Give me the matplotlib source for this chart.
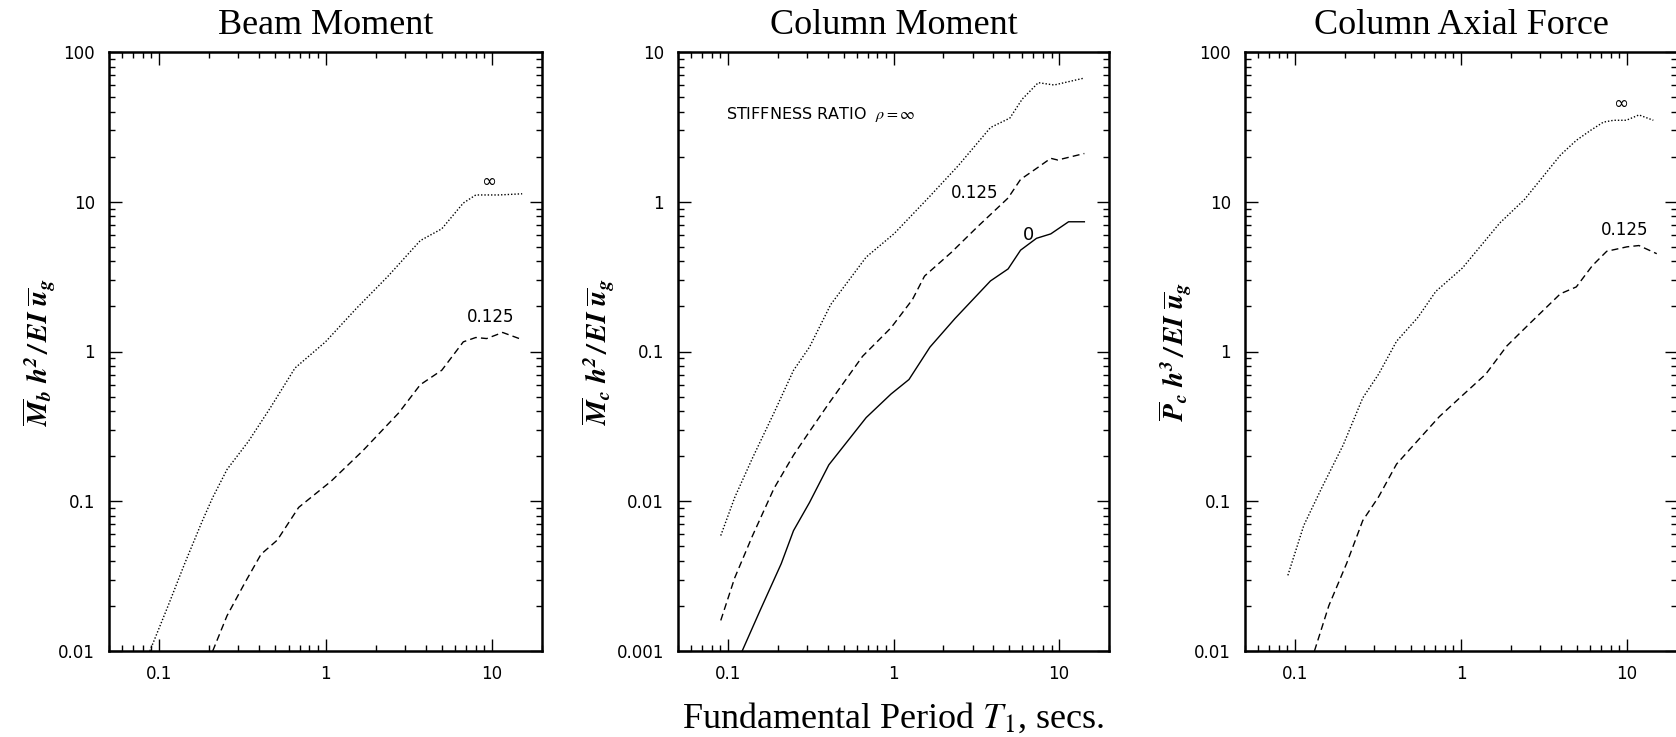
import numpy as np
import matplotlib
matplotlib.use("Agg")
import matplotlib.pyplot as plt
from matplotlib.ticker import LogLocator, FixedLocator, FuncFormatter, NullFormatter

plt.rcParams['font.family'] = ['Liberation Serif', 'DejaVu Serif']
plt.rcParams['mathtext.fontset'] = 'stix'

# ---- data (period T1 in secs) ----
# Beam moment
beam_inf_T = [0.088, 0.113, 0.142, 0.181, 0.210, 0.256, 0.345, 0.465, 0.656, 1.0, 1.52, 2.38, 3.71, 5.0, 6.73, 8.0, 11.0, 15.2]
beam_inf_v = [0.01, 0.0199, 0.038, 0.073, 0.106, 0.163, 0.252, 0.419, 0.776, 1.16, 1.92, 3.19, 5.5, 6.6, 9.8, 11.1, 11.1, 11.3]
beam_125_T = [0.21, 0.256, 0.328, 0.41, 0.513, 0.69, 1.08, 1.68, 2.76, 3.71, 5.0, 6.73, 8.0, 9.3, 11.6, 15.2]
beam_125_v = [0.01, 0.0172, 0.0286, 0.0443, 0.055, 0.091, 0.136, 0.218, 0.39, 0.60, 0.75, 1.16, 1.24, 1.22, 1.34, 1.2]

# Column moment
col_inf_T = [0.0906, 0.110, 0.141, 0.19, 0.249, 0.311, 0.418, 0.684, 1.01, 1.66, 2.47, 3.85, 5.04, 5.98, 7.48, 9.33, 14.2]
col_inf_v = [0.0059, 0.0106, 0.0195, 0.039, 0.0748, 0.107, 0.206, 0.427, 0.613, 1.09, 1.75, 3.13, 3.62, 4.84, 6.24, 6.02, 6.7]
col_125_T = [0.0906, 0.110, 0.141, 0.19, 0.249, 0.311, 0.407, 0.651, 0.966, 1.30, 1.54, 2.23, 3.23, 4.92, 5.85, 7.3, 8.9, 9.8, 14.2]
col_125_v = [0.0016, 0.00308, 0.0059, 0.0122, 0.0203, 0.0292, 0.045, 0.093, 0.144, 0.222, 0.319, 0.458, 0.684, 1.06, 1.41, 1.67, 1.95, 1.9, 2.1]
col_0_T = [0.122, 0.156, 0.21, 0.249, 0.311, 0.407, 0.684, 0.966, 1.24, 1.66, 2.35, 3.85, 4.92, 5.85, 7.3, 8.9, 11.4, 14.2]
col_0_v = [0.001, 0.00185, 0.00383, 0.00636, 0.0098, 0.0175, 0.0362, 0.052, 0.065, 0.107, 0.166, 0.296, 0.356, 0.475, 0.57, 0.61, 0.735, 0.735]

# Column axial force
ax_inf_T = [0.0906, 0.113, 0.145, 0.195, 0.256, 0.319, 0.409, 0.55, 0.705, 1.02, 1.27, 1.71, 2.42, 3.97, 4.95, 6.04, 7.2, 8.3, 9.9, 11.8, 14.4]
ax_inf_v = [0.032, 0.069, 0.123, 0.237, 0.49, 0.706, 1.17, 1.69, 2.52, 3.61, 4.84, 7.2, 10.4, 20.5, 25.7, 30.0, 34.0, 35.0, 35.0, 38.0, 35.0]
ax_125_T = [0.131, 0.16, 0.205, 0.256, 0.319, 0.409, 0.55, 0.74, 1.02, 1.41, 1.89, 2.55, 3.97, 4.95, 6.19, 7.55, 10.0, 11.8, 15.1]
ax_125_v = [0.01, 0.0201, 0.0386, 0.0743, 0.107, 0.177, 0.255, 0.367, 0.509, 0.706, 1.09, 1.51, 2.43, 2.7, 3.75, 4.67, 5.0, 5.1, 4.5]

titles = ['Beam Moment', 'Column Moment', 'Column Axial Force']
ylabels = [r'$\mathbfit{\overline{M}_b\ h^2\,/\,EI\ \overline{u}_g}$',
           r'$\mathbfit{\overline{M}_c\ h^2\,/\,EI\ \overline{u}_g}$',
           r'$\mathbfit{\overline{P}_c\ h^3\,/\,EI\ \overline{u}_g}$']
ylims = [(0.01, 100), (0.001, 10), (0.01, 100)]
xlim = (0.05, 20)

DOT = (0, (1, 1.4))
DASH = (0, (5, 3))
TICKFONT = 'DejaVu Sans'

W, H = 1676, 737
fig = plt.figure(figsize=(W / 100, H / 100), dpi=100)

# axes boxes in pixels: left, right, top, bottom
boxes = [(109, 542, 52, 651), (678, 1109, 52, 651), (1245, 1677, 52, 651)]
axes = []
for (l, r, t, b) in boxes:
    axes.append(fig.add_axes([l / W, 1 - b / H, (r - l) / W, (b - t) / H]))


def style_axis(ax, ylim, title, ylabel):
    ax.set_xscale('log')
    ax.set_yscale('log')
    ax.set_xlim(*xlim)
    ax.set_ylim(*ylim)
    ax.xaxis.set_major_locator(FixedLocator([0.1, 1, 10]))
    ax.xaxis.set_minor_locator(LogLocator(base=10, subs=np.arange(2, 10)))
    ax.xaxis.set_minor_formatter(NullFormatter())
    majors = [10.0 ** k for k in range(int(np.log10(ylim[0])), int(np.log10(ylim[1])) + 1)]
    ax.yaxis.set_major_locator(FixedLocator(majors))
    ax.yaxis.set_minor_locator(LogLocator(base=10, subs=np.arange(2, 10)))
    ax.yaxis.set_minor_formatter(NullFormatter())
    fmt = FuncFormatter(lambda v, p: f'{v:g}')
    ax.xaxis.set_major_formatter(fmt)
    ax.yaxis.set_major_formatter(fmt)
    ax.tick_params(which='both', direction='in', top=True, right=True, width=1.0)
    ax.tick_params(which='major', length=9, labelsize=12, pad=10)
    ax.tick_params(which='minor', length=4)
    for lab in ax.get_xticklabels() + ax.get_yticklabels():
        lab.set_family(TICKFONT)
    for s in ax.spines.values():
        s.set_linewidth(1.8)
    ax.set_title(title, fontsize=26, pad=13)
    ax.set_ylabel(ylabel, fontsize=20, labelpad=0)


for ax, yl, t, lab in zip(axes, ylims, titles, ylabels):
    style_axis(ax, yl, t, lab)

# Beam moment
axes[0].plot(beam_inf_T, beam_inf_v, color='k', lw=1.0, ls=DOT)
axes[0].plot(beam_125_T, beam_125_v, color='k', lw=1.0, ls=DASH)
axes[0].text(9.5, 13.5, '∞', fontsize=13, ha='center', va='center', family='DejaVu Sans')
axes[0].text(9.8, 1.7, '0.125', fontsize=12, ha='center', va='center', family=TICKFONT)

# Column moment
axes[1].plot(col_inf_T, col_inf_v, color='k', lw=1.0, ls=DOT)
axes[1].plot(col_125_T, col_125_v, color='k', lw=1.0, ls=DASH)
axes[1].plot(col_0_T, col_0_v, color='k', lw=1.0, ls='-')
axes[1].text(0.098, 3.8, 'STIFFNESS RATIO  $\\rho=\\infty$', fontsize=11.5, ha='left', va='center',
             family=TICKFONT)
axes[1].text(3.1, 1.15, '0.125', fontsize=12, ha='center', va='center', family=TICKFONT)
axes[1].text(6.5, 0.6, '0', fontsize=13, ha='center', va='center', family=TICKFONT)

# Column axial force
axes[2].plot(ax_inf_T, ax_inf_v, color='k', lw=1.0, ls=DOT)
axes[2].plot(ax_125_T, ax_125_v, color='k', lw=1.0, ls=DASH)
axes[2].text(9.2, 45, '∞', fontsize=13, ha='center', va='center', family='DejaVu Sans')
axes[2].text(9.7, 6.5, '0.125', fontsize=12, ha='center', va='center', family=TICKFONT)

fig.text(893 / W, 1 - 718 / H, 'Fundamental Period $T_1$, secs.', fontsize=26, ha='center', va='center')

fig.savefig('out.png', dpi=100)
